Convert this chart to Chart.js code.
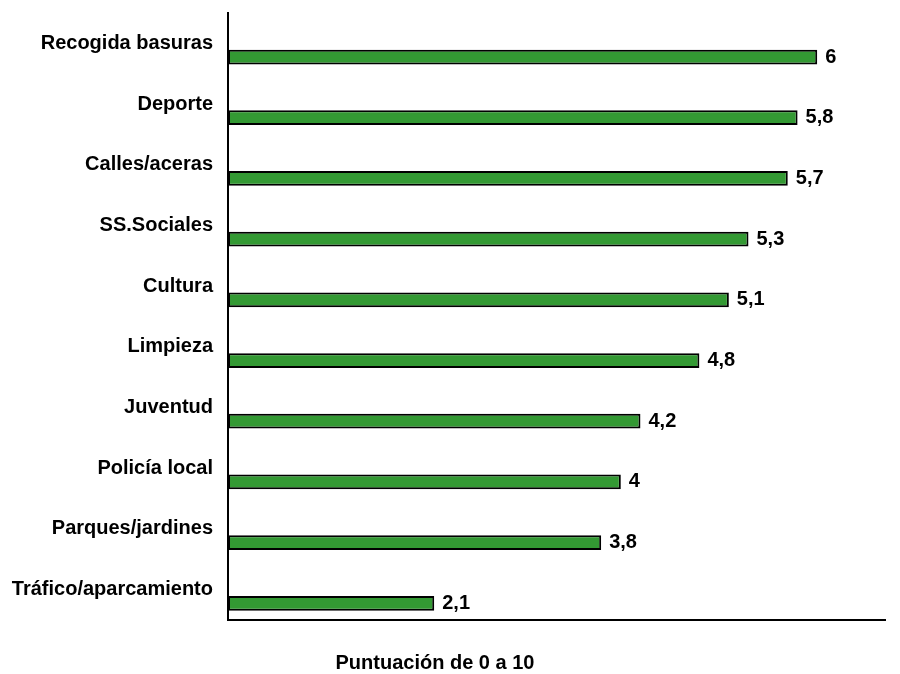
<!DOCTYPE html>
<html>
<head>
<meta charset="utf-8">
<script src="https://cdn.jsdelivr.net/npm/chart.js@4.4.1/dist/chart.umd.min.js"></script>
<style>
  html, body { margin: 0; padding: 0; background: #fff; }
  #wrap { position: relative; width: 900px; height: 674px; }
</style>
</head>
<body>
<div id="wrap"><canvas id="puntuacionChart" width="900" height="674"></canvas></div>
<script>
// Datos del gráfico
var categorias = ['Recogida basuras', 'Deporte', 'Calles/aceras', 'SS.Sociales', 'Cultura',
  'Limpieza', 'Juventud', 'Policía local', 'Parques/jardines', 'Tráfico/aparcamiento'];
var puntuaciones = [6, 5.8, 5.7, 5.3, 5.1, 4.8, 4.2, 4, 3.8, 2.1];
var huecos = [null, null, null, null, null, null, null, null, null, null]; // empty slot above each bar
var tituloEje = 'Puntuación de 0 a 10';

var fuente = '"Liberation Sans", Arial, Helvetica, sans-serif';

// Value labels next to each bar + axis caption
var etiquetasPlugin = {
  id: 'etiquetas',
  afterDatasetsDraw: function(chart) {
    var ctx = chart.ctx;
    var meta = chart.getDatasetMeta(1);
    ctx.save();
    ctx.font = 'bold 20px ' + fuente;
    ctx.fillStyle = '#000';
    ctx.textBaseline = 'middle';
    ctx.textAlign = 'left';
    meta.data.forEach(function(bar, i) {
      var txt = String(puntuaciones[i]).replace('.', ',');
      ctx.fillText(txt, bar.x + 8, bar.y);
    });
    ctx.textAlign = 'center';
    ctx.fillText(tituloEje, 435, 663);
    ctx.restore();
  }
};

if (document.getElementById('puntuacionChart')) {
  var ctx = document.getElementById('puntuacionChart').getContext('2d');
  var puntuacionChart = new Chart(ctx, {
    type: 'bar',
    data: {
      labels: categorias,
      datasets: [{
        label: 'hueco',
        data: huecos
      },
      {
        label: 'Puntuación',
        data: puntuaciones,
        backgroundColor: '#339933',
        borderColor: '#000000',
        borderWidth: 2,
        borderSkipped: false
      }]
    },
    options: {
      indexAxis: 'y',
      responsive: false,
      animation: false,
      categoryPercentage: 0.9,
      barPercentage: 0.54,
      layout: {
        padding: { top: 13, right: 15, bottom: 0, left: 0 }
      },
      scales: {
        x: {
          min: 0,
          max: 6.69,
          ticks: { display: false },
          grid: { display: false },
          border: { display: true, color: '#000', width: 2 },
          afterFit: function(scale) {
            scale.height = 54;
            scale.paddingLeft = 0;
            scale.paddingRight = 0;
          }
        },
        y: {
          grid: { display: false, drawTicks: false },
          border: { display: true, color: '#000', width: 2 },
          ticks: {
            color: '#000',
            padding: 15,
            font: { family: fuente, size: 20, weight: 'bold' }
          },
          afterFit: function(scale) {
            scale.width = 228;
            scale.paddingTop = 0;
            scale.paddingBottom = 0;
          }
        }
      },
      plugins: {
        legend: { display: false },
        tooltip: { enabled: false }
      }
    },
    plugins: [etiquetasPlugin]
  });
}
</script>
</body>
</html>
